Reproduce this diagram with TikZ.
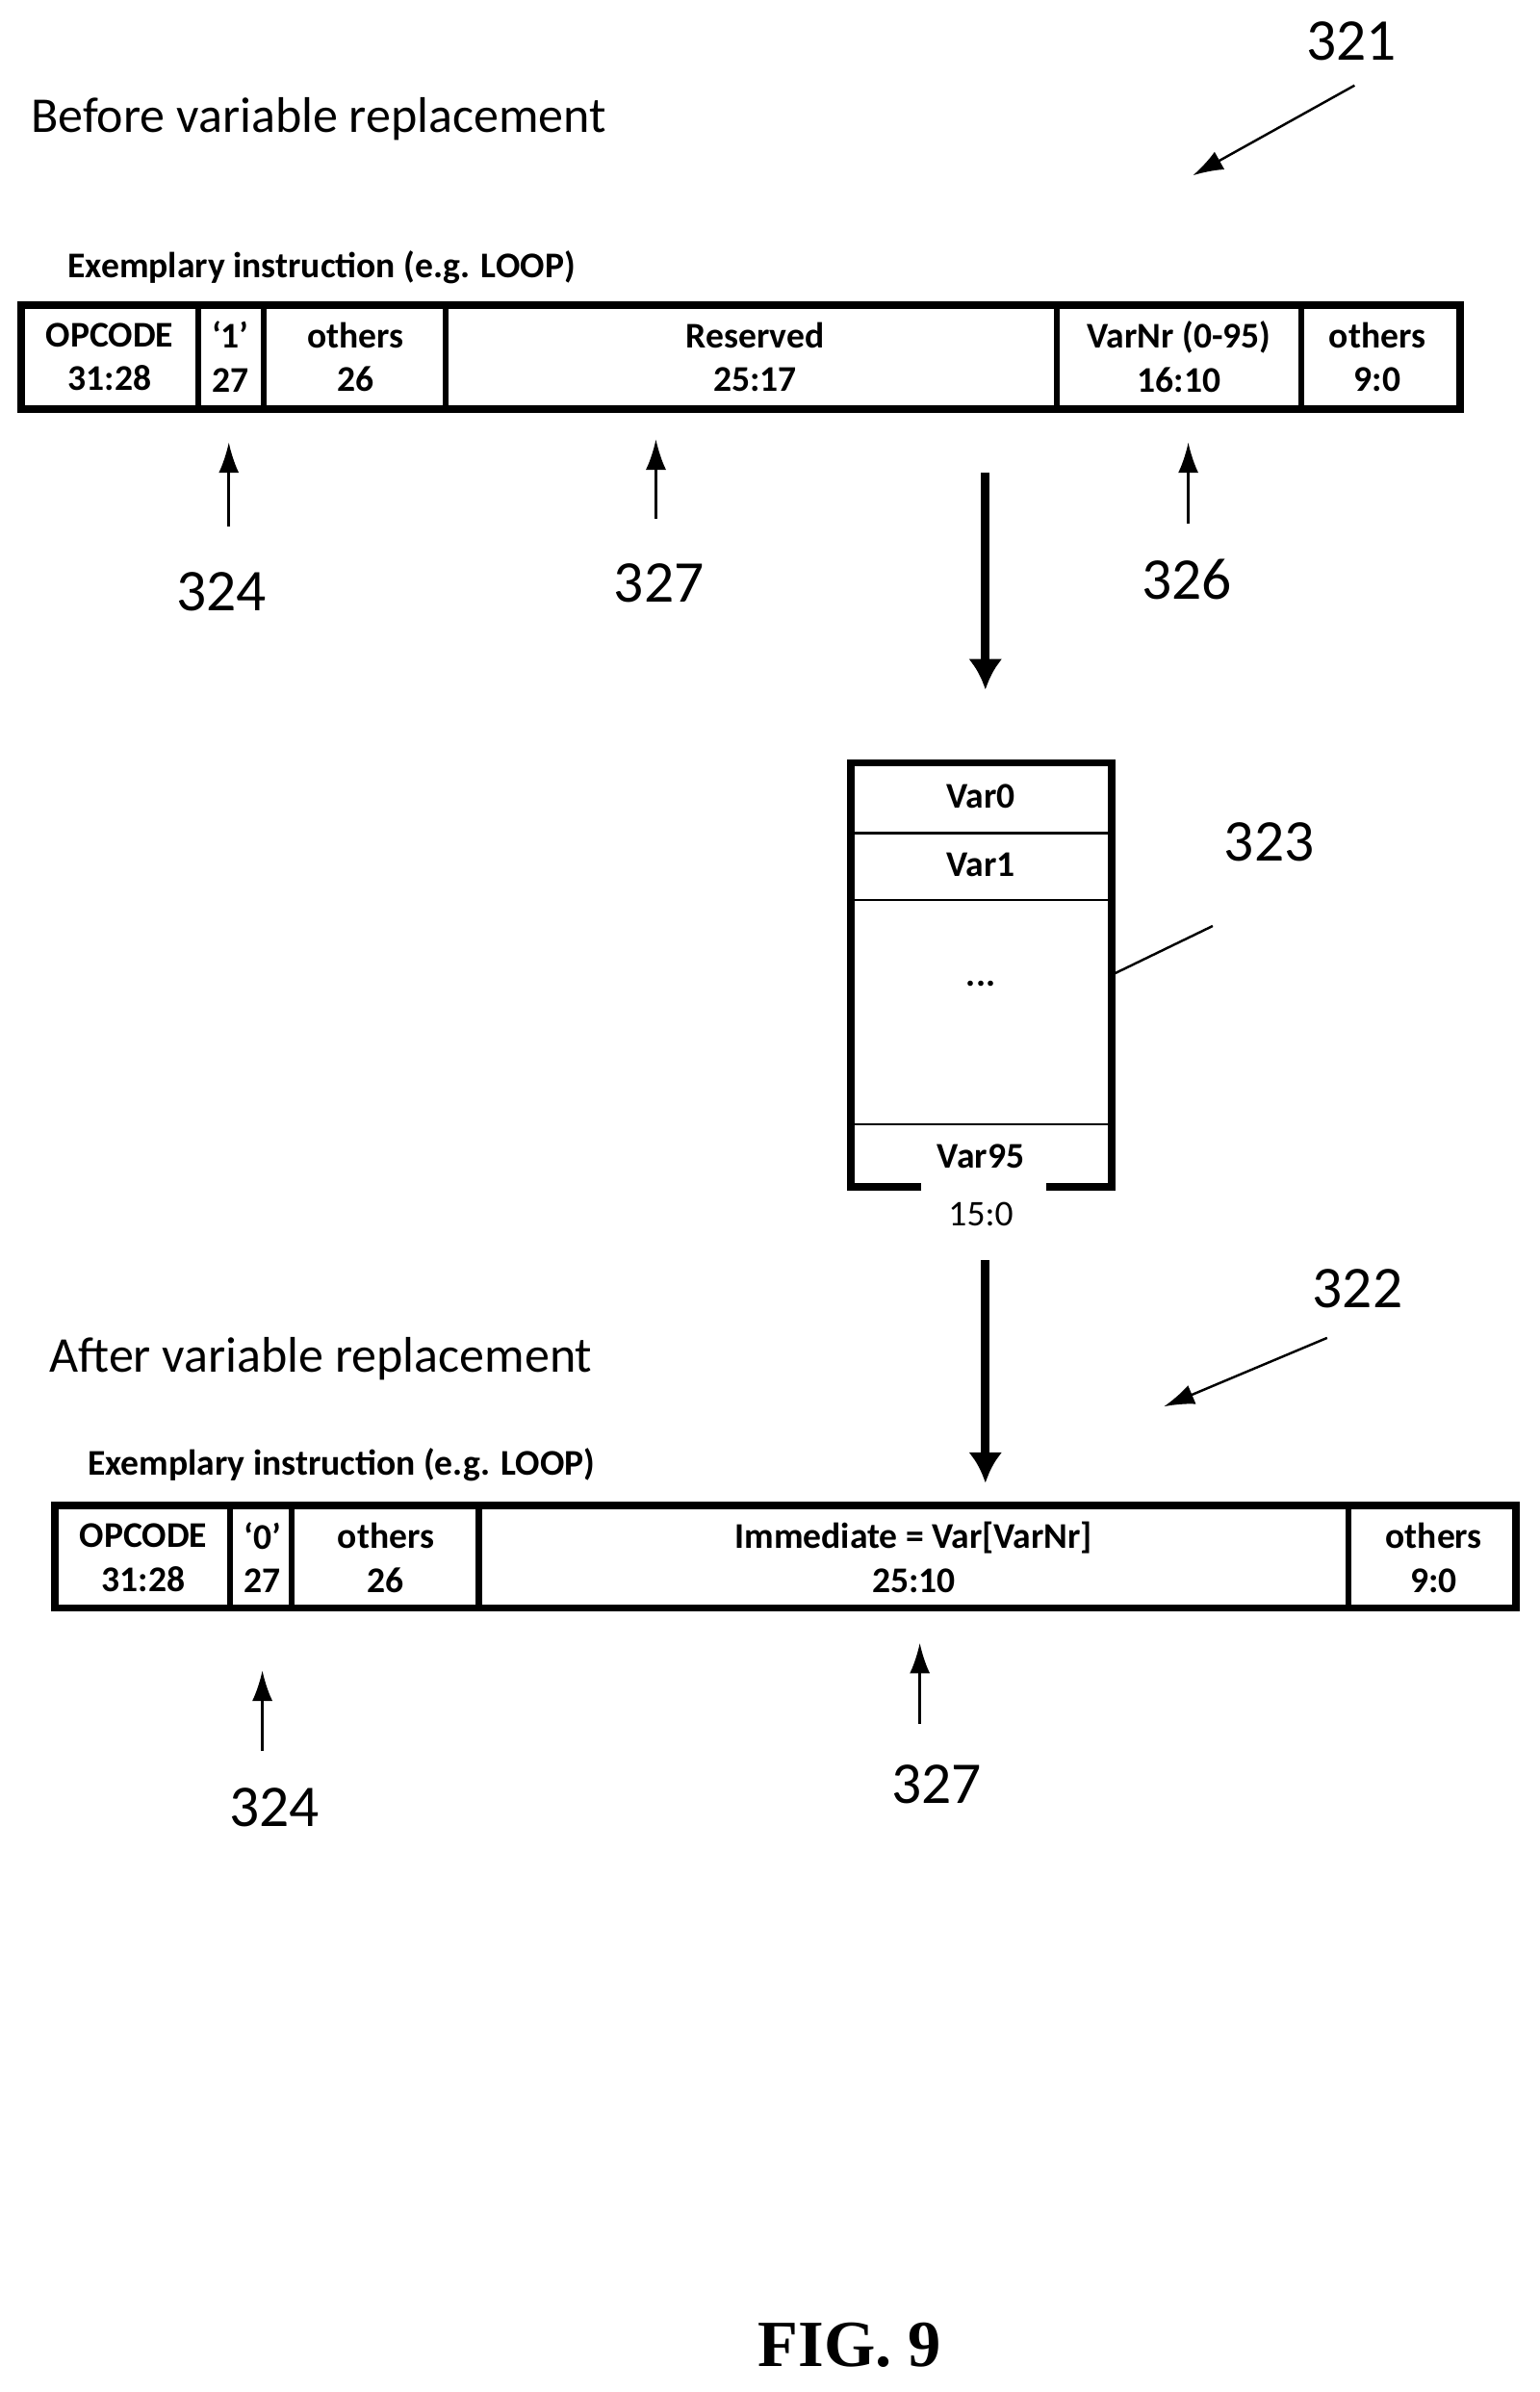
\documentclass[tikz,border=0pt]{standalone}
\usepackage{fontspec}
\setmainfont{Carlito}
\newfontfamily\figfont{Liberation Serif}
\usetikzlibrary{arrows.meta}
\begin{document}
\begin{tikzpicture}[x=0.015847cm, y=-0.015847cm,
    field/.style={font=\fontsize{10.7}{13}\selectfont\bfseries, align=center, inner sep=0pt},
    title/.style={font=\fontsize{14.8}{16}\selectfont, anchor=west, inner sep=0pt},
    caption/.style={font=\fontsize{10.7}{12}\selectfont\bfseries, anchor=west, inner sep=0pt},
    refnum/.style={font=\fontsize{17.5}{19}\selectfont, inner sep=0pt},
    frame/.style={line width=2.2pt},
    pointer/.style={line width=0.7pt, -{Latex[length=9pt, width=6pt]}},
    flow/.style={line width=2.6pt, -{Latex[length=9pt, width=10pt]}}]
    \useasboundingbox (0,0) rectangle (1009,1568);
    % upper instruction word
    \node[title] (before) at (20,78) {Before variable replacement};
    \node[caption] (capA) at (44,175) {Exemplary instruction (e.g. LOOP)};
    \draw[frame] (14,200) rectangle (957,268);
    \foreach \x in {130,173,292,693,853}
        \draw[line width=1.8pt] (\x,200) -- (\x,268);
    \node[field] (opA) at (72,234) {OPCODE\\31:28};
    \node[field] (bitA) at (151,234) {‘1’\\27};
    \node[field] (othA) at (233,234) {others\\26};
    \node[field] (resA) at (495,234) {Reserved\\25:17};
    \node[field] (varnr) at (773,234) {VarNr (0-95)\\16:10};
    \node[field] (lowA) at (903,234) {others\\9:0};
    % reference numerals, upper word
    \node[refnum] (n324a) at (145,388) {324};
    \node[refnum] (n327a) at (432,382) {327};
    \node[refnum] (n326) at (778,380) {326};
    \node[refnum] (n321) at (886,27) {321};
    \coordinate (t324a) at (150,290); \coordinate (s324a) at (150,345);
    \coordinate (t327a) at (430,288); \coordinate (s327a) at (430,340);
    \coordinate (t326) at (779,290); \coordinate (s326) at (779,343);
    \coordinate (s321) at (888,56); \coordinate (t321) at (782,115);
    \draw[pointer] (s324a) -- (t324a);
    \draw[pointer] (s327a) -- (t327a);
    \draw[pointer] (s326) -- (t326);
    \draw[pointer] (s321) -- (t321);
    % variable table
    \coordinate (d1s) at (646,310); \coordinate (d1e) at (646,452);
    \draw[flow] (d1s) -- (d1e);
    \draw[frame] (604,778) -- (558,778) -- (558,500) -- (729,500) -- (729,778) -- (686,778);
    \foreach \y in {546,590,737}
        \draw[line width=0.8pt] (558,\y) -- (729,\y);
    \node[field] (var0) at (643,522) {Var0};
    \node[field] (var1) at (643,567) {Var1};
    \node[field] (dots) at (643,645) {...};
    \node[field] (var95) at (643,758) {Var95};
    \node[field, font=\fontsize{10.7}{12}\selectfont] (range) at (643,796) {15:0};
    \node[refnum] (n323) at (832,552) {323};
    \coordinate (t323) at (731,638); \coordinate (s323) at (795,607);
    \draw[line width=0.7pt] (s323) -- (t323);
    \coordinate (d2s) at (646,826); \coordinate (d2e) at (646,972);
    \draw[flow] (d2s) -- (d2e);
    % lower instruction word
    \node[title] (after) at (32,891) {After variable replacement};
    \node[caption] (capB) at (57,960) {Exemplary instruction (e.g. LOOP)};
    \node[refnum] (n322) at (890,845) {322};
    \coordinate (s322) at (870,877); \coordinate (t322) at (763,922);
    \draw[pointer] (s322) -- (t322);
    \draw[frame] (36,987) rectangle (994,1054);
    \foreach \x in {151,191,314,884}
        \draw[line width=1.8pt] (\x,987) -- (\x,1054);
    \node[field] (opB) at (94,1021) {OPCODE\\31:28};
    \node[field] (bitB) at (172,1021) {‘0’\\27};
    \node[field] (othB) at (253,1021) {others\\26};
    \node[field] (imm) at (599,1021) {Immediate = Var[VarNr]\\25:10};
    \node[field] (lowB) at (940,1021) {others\\9:0};
    \node[refnum] (n324b) at (180,1185) {324};
    \node[refnum] (n327b) at (614,1170) {327};
    \coordinate (t324b) at (172,1095); \coordinate (s324b) at (172,1148);
    \coordinate (t327b) at (603,1077); \coordinate (s327b) at (603,1130);
    \draw[pointer] (s324b) -- (t324b);
    \draw[pointer] (s327b) -- (t327b);
    % figure label
    \node[font=\figfont\fontsize{19.5}{21}\selectfont\bfseries] (fig) at (557,1537) {FIG. 9};
\end{tikzpicture}
\end{document}
